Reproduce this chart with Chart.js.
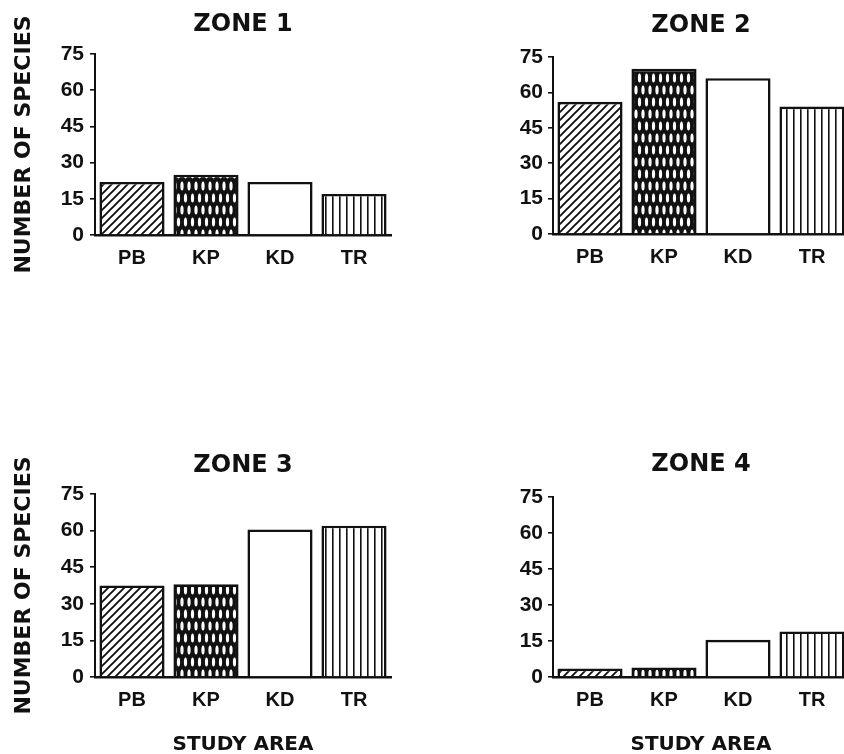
<!DOCTYPE html>
<html><head><meta charset="utf-8">
<script src="https://cdn.jsdelivr.net/npm/chart.js@4.4.1/dist/chart.umd.min.js"></script>
<style>
html,body{margin:0;padding:0;background:#fff;overflow:hidden;width:844px;height:754px;position:relative;}
.panel{position:absolute;}
.panel canvas{display:block;}
</style></head><body>
<div class="panel" id="p1"><canvas id="c1"></canvas></div>
<div class="panel" id="p2"><canvas id="c2"></canvas></div>
<div class="panel" id="p3"><canvas id="c3"></canvas></div>
<div class="panel" id="p4"><canvas id="c4"></canvas></div>
<script>
// ---- data ----
const categories = ['PB', 'KP', 'KD', 'TR'];
const zone1Values = [22, 25, 22, 17];
const zone2Values = [56, 70, 66, 54];
const zone3Values = [37.5, 38, 60.5, 62];
const zone4Values = [3.5, 4, 15.5, 19];
const yTickValues = [0, 15, 30, 45, 60, 75];
const zoneTitles = ['ZONE 1', 'ZONE 2', 'ZONE 3', 'ZONE 4'];
const yAxisTitle = 'NUMBER OF SPECIES';
const xAxisTitle = 'STUDY AREA';

// ---- layout (positions / sizes only) ----
const panels = [
  {id:'c1', box:'p1', left:0,   top:0,   w:420, h:290, axisX:95,  right:391, titleCY:25,    chartTop:54,  chartBottom:235, labelPad:6, yTitle:true,  xTitle:false, values:zone1Values, title:zoneTitles[0]},
  {id:'c2', box:'p2', left:440, top:0,   w:410, h:290, axisX:553, right:849, titleCY:26,    chartTop:57,  chartBottom:234, labelPad:5, yTitle:false, xTitle:false, values:zone2Values, title:zoneTitles[1]},
  {id:'c3', box:'p3', left:0,   top:440, w:420, h:314, axisX:95,  right:391, titleCY:466,   chartTop:494, chartBottom:677, labelPad:6, yTitle:true,  xTitle:true,  values:zone3Values, title:zoneTitles[2]},
  {id:'c4', box:'p4', left:440, top:440, w:410, h:314, axisX:553, right:849, titleCY:464.5, chartTop:497, chartBottom:677, labelPad:5, yTitle:false, xTitle:true,  values:zone4Values, title:zoneTitles[3]}
];

const INK = '#111';

// ---- fill patterns ----
function tile(w, h, draw) {
  const c = document.createElement('canvas');
  c.width = w; c.height = h;
  const g = c.getContext('2d');
  draw(g, w, h);
  return g.createPattern(c, 'repeat');
}
const hatchPattern = tile(8, 8, (g, s) => {
  g.fillStyle = '#fff'; g.fillRect(0, 0, s, s);
  g.strokeStyle = INK; g.lineWidth = 1.9;
  g.beginPath();
  g.moveTo(-2, s + 2); g.lineTo(s + 2, -2);
  g.moveTo(-2, 2); g.lineTo(2, -2);
  g.moveTo(s - 2, s + 2); g.lineTo(s + 2, s - 2);
  g.stroke();
});
const knitPattern = tile(7, 24, (g, w, h) => {
  g.fillStyle = INK; g.fillRect(0, 0, w, h);
  g.fillStyle = '#fff';
  const ell = (x, y) => { g.beginPath(); g.ellipse(x, y, 1.6, 4.6, 0, 0, Math.PI * 2); g.fill(); };
  ell(3.5, 6); ell(0, 18); ell(7, 18);
});
const vlinePattern = tile(7, 4, (g, w, h) => {
  g.fillStyle = '#fff'; g.fillRect(0, 0, w, h);
  g.fillStyle = INK; g.fillRect(3, 0, 1.6, h);
});
const barFills = [hatchPattern, knitPattern, '#ffffff', vlinePattern];

const tickFont = {family: "'Liberation Sans', Arial, sans-serif", weight: 'bold', size: 21};
const catFont = {family: "'Liberation Sans', Arial, sans-serif", weight: 'bold', size: 20};
const titleFont = {family: "'DejaVu Sans', sans-serif", weight: 'bold', size: 24, lineHeight: 1.25};
const yTitleFont = {family: "'DejaVu Sans', sans-serif", weight: 'bold', size: 22, lineHeight: 1.2};
const xTitleFont = {family: "'DejaVu Sans', sans-serif", weight: 'bold', size: 20, lineHeight: 0.9};

panels.forEach(p => {
  const box = document.getElementById(p.box);
  box.style.left = p.left + 'px'; box.style.top = p.top + 'px';
  box.style.width = p.w + 'px'; box.style.height = p.h + 'px';
  const cv = document.getElementById(p.id);
  cv.width = p.w; cv.height = p.h;
  cv.style.width = p.w + 'px'; cv.style.height = p.h + 'px';

  const titleLH = titleFont.size * titleFont.lineHeight;
  const tPadTop = p.titleCY - p.top - titleLH / 2;
  const tPadBottom = p.chartTop - p.top - titleLH - tPadTop;
  const yWidth = p.axisX - p.left;
  const xHeight = p.top + p.h - p.chartBottom;
  const padRight = p.left + p.w - p.right;

  new Chart(cv, {
    type: 'bar',
    data: {
      labels: categories,
      datasets: [{
        data: p.values,
        backgroundColor: barFills,
        borderColor: INK,
        borderWidth: 2.6,
        borderSkipped: 'bottom',
        categoryPercentage: 1.0,
        barPercentage: 0.88
      }]
    },
    options: {
      responsive: false,
      animation: false,
      events: [],
      layout: {padding: {left: 0, top: 0, right: padRight, bottom: 0}},
      plugins: {
        legend: {display: false},
        tooltip: {enabled: false},
        title: {
          display: true, text: p.title, color: INK, font: titleFont,
          fullSize: false, align: 'center',
          padding: {top: tPadTop, bottom: tPadBottom}
        }
      },
      scales: {
        x: {
          type: 'category',
          grid: {display: false, drawTicks: false},
          border: {display: true, color: INK, width: 2.4},
          ticks: {color: INK, font: catFont, padding: 11, maxRotation: 0},
          title: {display: p.xTitle, text: xAxisTitle, color: INK, font: xTitleFont, padding: {top: 0, bottom: 0}},
          afterFit: s => { s.height = xHeight; }
        },
        y: {
          type: 'linear', min: 0, max: 75,
          afterBuildTicks: s => { s.ticks = yTickValues.map(v => ({value: v})); },
          grid: {display: true, drawOnChartArea: false, drawTicks: true, tickLength: 5, color: INK, lineWidth: 1.6},
          border: {display: true, color: INK, width: 2},
          ticks: {color: INK, font: tickFont, padding: p.labelPad},
          title: {display: p.yTitle, text: yAxisTitle, color: INK, font: yTitleFont, padding: {top: 10.8, bottom: 0}},
          afterFit: s => { s.width = yWidth; }
        }
      }
    }
  });
});
</script>
</body></html>
